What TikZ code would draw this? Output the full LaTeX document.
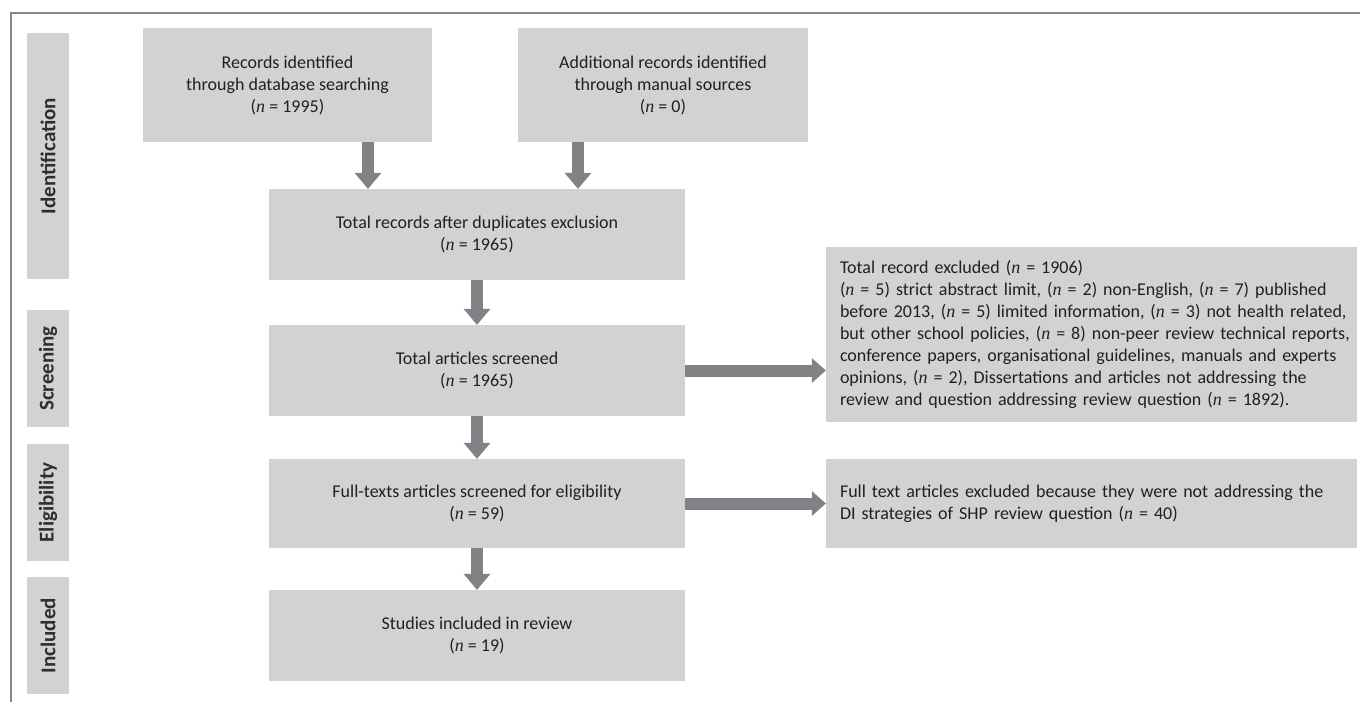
\documentclass[tikz,border=0pt]{standalone}
\usepackage{fontspec}
\setmainfont{Carlito}
\newfontfamily\serifn{Liberation Serif}
\newcommand\nv{{\serifn\itshape n}}
\usetikzlibrary{arrows.meta}
\definecolor{boxgray}{HTML}{D1D2D4}
\definecolor{arrgray}{HTML}{808285}
\definecolor{txtc}{HTML}{231F20}
\definecolor{labtxt}{HTML}{2E2E2E}
\definecolor{framegray}{HTML}{878787}
\begin{document}
\begin{tikzpicture}[x=1pt,y=-1pt,
  box/.style={fill=boxgray, text=txtc, align=center, inner sep=0pt,
    font=\fontsize{18}{22}\selectfont},
  exbox/.style={box, align=left, inner xsep=14pt, inner ysep=0pt,
    text width=503pt, minimum width=531pt},
  lab/.style={fill=boxgray, text=labtxt, inner sep=0pt, rotate=90,
    minimum height=42pt, font=\bfseries\fontsize{21}{24}\selectfont},
  varrow/.style={draw=arrgray, line width=12pt,
    -{Triangle[width=27pt,length=16pt,line width=0pt]}},
  harrow/.style={draw=arrgray, line width=12pt,
    -{Triangle[width=25pt,length=14pt,line width=0pt]}}
]
\useasboundingbox (0,0) rectangle (1360,702);
\fill[white] (0,0) rectangle (1360,702);
\draw[framegray, line width=2pt] (1360,13) -- (11,13) -- (11,702);

% stage labels
\node[lab, minimum width=246pt] (l1) at (48,156) {Identification};
\node[lab, minimum width=117pt] (l2) at (48,368.5) {Screening};
\node[lab, minimum width=117pt] (l3) at (48,502.5) {Eligibility};
\node[lab, minimum width=117pt] (l4) at (48,635.5) {Included};

% main boxes
\node[box, minimum width=289pt, minimum height=114pt] (a1) at (287.5,85)
  {Records identified\\through database searching\\(\nv{} = 1995)};
\node[box, minimum width=290pt, minimum height=114pt] (a2) at (663,85)
  {Additional records identified\\through manual sources\\(\nv{} = 0)};
\node[box, minimum width=416pt, minimum height=91pt] (b) at (477,234.5)
  {Total records after duplicates exclusion\\(\nv{} = 1965)};
\node[box, minimum width=416pt, minimum height=91pt] (c) at (477,370.5)
  {Total articles screened\\(\nv{} = 1965)};
\node[box, minimum width=416pt, minimum height=89pt] (d) at (477,503.5)
  {Full-texts articles screened for eligibility\\(\nv{} = 59)};
\node[box, minimum width=416pt, minimum height=91pt] (e) at (477,635.5)
  {Studies included in review\\(\nv{} = 19)};

% exclusion boxes
\node[exbox, minimum height=175pt] (x1) at (1091.5,334.5)
  {\mbox{Total record excluded (\nv{} = 1906)}\\
   \mbox{(\nv{} = 5) strict abstract limit, (\nv{} = 2) non-English, (\nv{} = 7) published}\\
   \mbox{before 2013, (\nv{} = 5) limited information, (\nv{} = 3) not health related,}\\
   \mbox{but other school policies, (\nv{} = 8) non-peer review technical reports,}\\
   \mbox{conference papers, organisational guidelines, manuals and experts}\\
   \mbox{opinions, (\nv{} = 2), Dissertations and articles not addressing the}\\
   \mbox{review and question addressing review question (\nv{} = 1892).}};
\node[exbox, minimum height=89pt] (x2) at (1091.5,503.5)
  {\mbox{Full text articles excluded because they were not addressing the}\\
   \mbox{DI strategies of SHP review question (\nv{} = 40)}};

% connectors
\coordinate (ax1) at (368,0);
\coordinate (ax2) at (578,0);
\draw[varrow] (a1.south -| ax1) -- (b.north -| ax1);
\draw[varrow] (a2.south -| ax2) -- (b.north -| ax2);
\draw[varrow] (b.south) -- (c.north);
\draw[varrow] (c.south) -- (d.north);
\draw[varrow] (d.south) -- (e.north);
\draw[harrow] (c.east) -- (c.east -| x1.west);
\draw[harrow] (d.east) -- (d.east -| x2.west);
\end{tikzpicture}
\end{document}
